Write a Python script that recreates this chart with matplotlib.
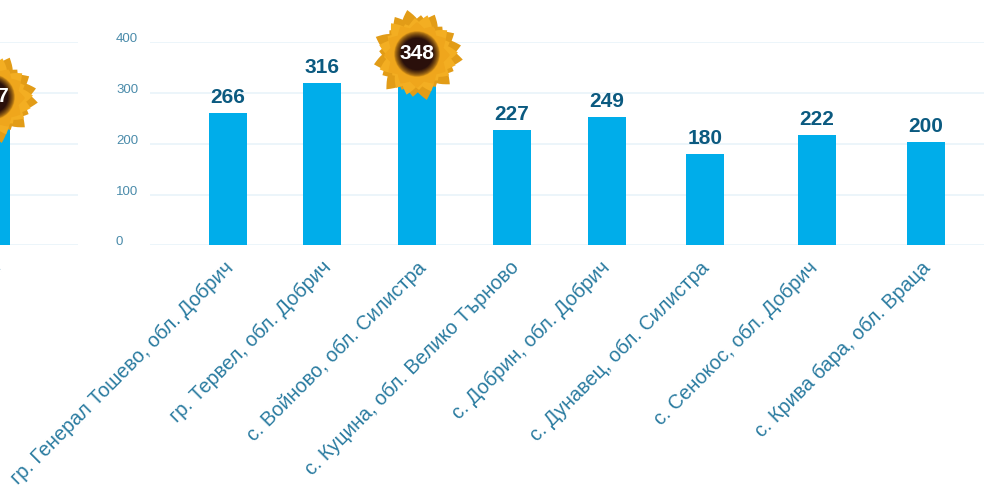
import numpy as np
import matplotlib.pyplot as plt
from matplotlib.patches import Polygon, Circle
from matplotlib.transforms import ScaledTranslation

plt.rcParams['font.family'] = ['Liberation Sans', 'DejaVu Sans']

W, H = 984, 496

# main chart
categories = ["гр. Генерал Тошево, обл. Добрич", "гр. Тервел, обл. Добрич", "с. Войново, обл. Силистра",
              "с. Куцина, обл. Велико Търново", "с. Добрин, обл. Добрич", "с. Дунавец, обл. Силистра",
              "с. Сенокос, обл. Добрич", "с. Крива бара, обл. Враца"]
labels = [266, 316, 348, 227, 249, 180, 222, 200]
heights = [261, 320, 348, 228, 253, 180, 218, 204]
bar_x = [228, 322, 417, 512, 607, 705, 817, 926]
label_shift = [-4, 0, 0, -3, -7, -5, -9, -5]
yticks = [0, 100, 200, 300, 400]

# cut off chart on the left
left_category = ["обл. Добрич"]
left_label = "347"
left_height = [230]
left_x = [-9]

BLUE = "#00ADEA"
GRID = "#E9F4FA"
DARK = "#0B5A80"
TICK = "#2A7BA0"
YTICK = "#4A8BAA"

fig = plt.figure(figsize=(W / 100, H / 100), dpi=100)


def make_axes(x0, x1):
    ax = fig.add_axes([x0 / W, 1 - 245.5 / H, (x1 - x0) / W, 203 / H])
    ax.set_xlim(x0, x1)
    ax.set_ylim(0, 400)
    ax.patch.set_visible(False)
    for s in ax.spines.values():
        s.set_visible(False)
    ax.set_yticks(yticks)
    ax.grid(axis="y", color=GRID, lw=1.2)
    ax.set_axisbelow(True)
    ax.tick_params(length=0)
    return ax


ax = make_axes(150, W)
ax.bar(bar_x, heights, width=38, color=BLUE)
ax.set_xticks(bar_x)
ax.set_xticklabels(categories, rotation=45, ha="right", rotation_mode="anchor",
                   fontsize=14.3, color=TICK)
ax.tick_params(axis="x", pad=9)
for lab, dx in zip(ax.get_xticklabels(), label_shift):
    lab.set_transform(lab.get_transform() + ScaledTranslation(dx / 100, 0, fig.dpi_scale_trans))
ax.set_yticklabels([str(t) for t in yticks], fontsize=9.5, color=YTICK, ha="left", va="baseline")
ax.tick_params(axis="y", pad=24.5)
for x, h, l in zip(bar_x, heights, labels):
    if l != max(labels):
        ax.annotate(str(l), (x, h), xytext=(0, 4.5), textcoords="offset points", ha="center",
                    va="bottom", fontsize=15, fontweight="bold", color=DARK)

ax2 = make_axes(-100, 78)
ax2.bar(left_x, left_height, width=38, color=BLUE)
ax2.set_xticks(left_x)
ax2.set_xticklabels(left_category, rotation=45, ha="right", rotation_mode="anchor",
                    fontsize=14.3, color=TICK)
ax2.tick_params(axis="x", pad=9)
ax2.set_yticklabels([])

# overlay in pixels for the sunflower badges
over = fig.add_axes([0, 0, 1, 1], zorder=5)
over.set_xlim(0, W)
over.set_ylim(H, 0)
over.axis("off")

petal_len = [46, 40, 44, 37, 46, 42, 38, 46, 40, 44, 38, 45, 37, 44, 46, 40, 44, 38, 43, 45]


def petal(cx, cy, ang, r_out, half, color, z):
    # leaf shape from the disc outwards, rounded belly and pointed tip
    d = np.array([np.cos(ang), np.sin(ang)])
    n = np.array([-d[1], d[0]])
    c = np.array([cx, cy]) + d * 8
    t = np.linspace(0, 1, 14)
    w = half * np.sin(np.pi * t ** 1.1)
    right = [c + d * (r_out - 8) * a - n * b for a, b in zip(t, w)]
    left = [c + d * (r_out - 8) * a + n * b for a, b in zip(t[::-1], w[::-1])]
    over.add_patch(Polygon(right + left, closed=True, fc=color, ec="none", zorder=z))


def sunflower(cx, cy, text):
    for i, r in enumerate(petal_len):
        petal(cx, cy, 2 * np.pi * i / 20 + 0.1, r, 9.5, "#E29C17", 6)
    for i, r in enumerate(petal_len[::-1]):
        petal(cx, cy, 2 * np.pi * (i + 0.5) / 20 + 0.1, r - 5, 8.5, "#F3AE22", 7)
    for i in range(12):
        petal(cx, cy, 2 * np.pi * i / 12, 33, 9, "#EFA61C", 8)
    # disc fading from the petal colour to almost black
    steps = 14
    c0 = np.array([0xE2, 0x9A, 0x18]) / 255
    c1 = np.array([0x2A, 0x10, 0x0B]) / 255
    for i in range(steps):
        t = (i / (steps - 1)) ** 0.7
        over.add_patch(Circle((cx, cy - 1), 23 - 7 * i / (steps - 1), fc=tuple(c0 + (c1 - c0) * t),
                              ec="none", zorder=9))
    over.text(cx, cy - 1.5, text, ha="center", va="center", color="white", fontsize=15,
              fontweight="bold", zorder=10)


sunflower(417, 55, str(max(labels)))
sunflower(-8, 98, left_label)

plt.savefig("out.png", dpi=100)
